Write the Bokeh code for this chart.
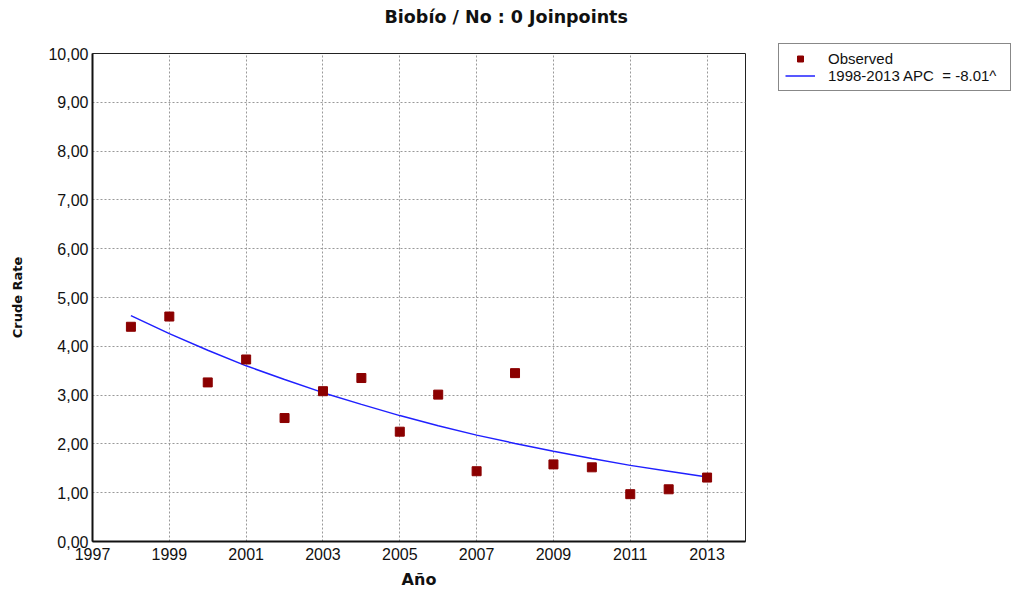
from bokeh.plotting import figure
from bokeh.models import Legend, LegendItem, FixedTicker, CustomJSTickFormatter, Range1d, Title
from bokeh.embed import file_html
from bokeh.resources import INLINE

years = [1998, 1999, 2000, 2001, 2002, 2003, 2004, 2005, 2006, 2007, 2008, 2009, 2010, 2011, 2012, 2013]
observed = [4.40, 4.61, 3.26, 3.73, 2.53, 3.08, 3.35, 2.25, 3.01, 1.44, 3.45, 1.58, 1.52, 0.97, 1.07, 1.31]
fitted = [4.63, 4.26, 3.92, 3.60, 3.32, 3.05, 2.81, 2.58, 2.37, 2.18, 2.01, 1.85, 1.70, 1.56, 1.44, 1.32]
x_ticks = [1997, 1999, 2001, 2003, 2005, 2007, 2009, 2011, 2013]
y_ticks = [0, 1, 2, 3, 4, 5, 6, 7, 8, 9, 10]
title_text = "Biobío / No : 0 Joinpoints"
x_label = "Año"
y_label = "Crude Rate"
obs_label = "Observed"
fit_label = "1998-2013 APC  = -8.01^"

p = figure(frame_width=653, frame_height=488, output_backend="svg", toolbar_location=None,
           x_range=Range1d(1997, 2014), y_range=Range1d(0, 10),
           min_border_left=92, min_border_right=269, min_border_top=53, min_border_bottom=48)
p.background_fill_color = "white"
p.border_fill_color = "white"
p.outline_line_color = "#222222"
p.outline_line_width = 1

# main title (outermost)
p.title.text = title_text
p.title.text_font = "DejaVu Sans"
p.title.text_font_style = "bold"
p.title.text_font_size = "17.5px"
p.title.text_color = "#111111"
p.title.align = "left"
p.title.offset = 292
p.title.vertical_align = "middle"
p.title.standoff = 9

# spacer between frame and main title
spacer = Title(text=" ", text_font_size="16px", standoff=2)
p.add_layout(spacer, "above")

for ax in (p.xaxis[0], p.yaxis[0]):
    ax.major_tick_in = 0
    ax.major_tick_out = 0
    ax.minor_tick_in = 0
    ax.minor_tick_out = 0
    ax.axis_line_color = "#111111"
    ax.axis_line_width = 2
    ax.major_label_text_font = "Liberation Sans"
    ax.major_label_text_font_size = "16px"
    ax.major_label_text_color = "#111111"
    ax.axis_label_text_font = "DejaVu Sans"
    ax.axis_label_text_font_style = "bold"
    ax.axis_label_text_color = "#111111"

p.xaxis.ticker = FixedTicker(ticks=x_ticks)
p.yaxis.ticker = FixedTicker(ticks=y_ticks)
p.yaxis.formatter = CustomJSTickFormatter(code="return tick.toFixed(2).replace('.', ',');")
p.xaxis.major_label_standoff = 6
p.yaxis.major_label_standoff = 4
p.xaxis.axis_label = x_label
p.yaxis.axis_label = y_label
p.xaxis.axis_label_text_font_size = "16px"
p.yaxis.axis_label_text_font_size = "13px"
p.xaxis.axis_label_standoff = 7
p.yaxis.axis_label_standoff = 20

p.grid.grid_line_color = "#999999"
p.grid.grid_line_dash = "2 2"
p.grid.grid_line_width = 1

fit_r = p.line(years, fitted, line_color="#2020ff", line_width=1.5)
obs_r = p.scatter(years, observed, marker="square", size=9, fill_color="#8b0000", line_color="#8b0000")

legend = Legend(items=[LegendItem(label=obs_label, renderers=[obs_r]),
                       LegendItem(label=fit_label, renderers=[fit_r])],
                location=(33, 450))
legend.border_line_color = "#111111"
legend.border_line_width = 1
legend.padding = 6
legend.margin = 0
legend.spacing = 0
legend.label_height = 15
legend.label_width = 176
legend.glyph_height = 15
legend.glyph_width = 30
legend.label_standoff = 13
legend.label_text_font = "Liberation Sans"
legend.label_text_font_size = "15px"
legend.label_text_color = "#111111"
legend.background_fill_alpha = 1
p.add_layout(legend, "right")

open("out.html", "w").write(file_html(p, INLINE))
